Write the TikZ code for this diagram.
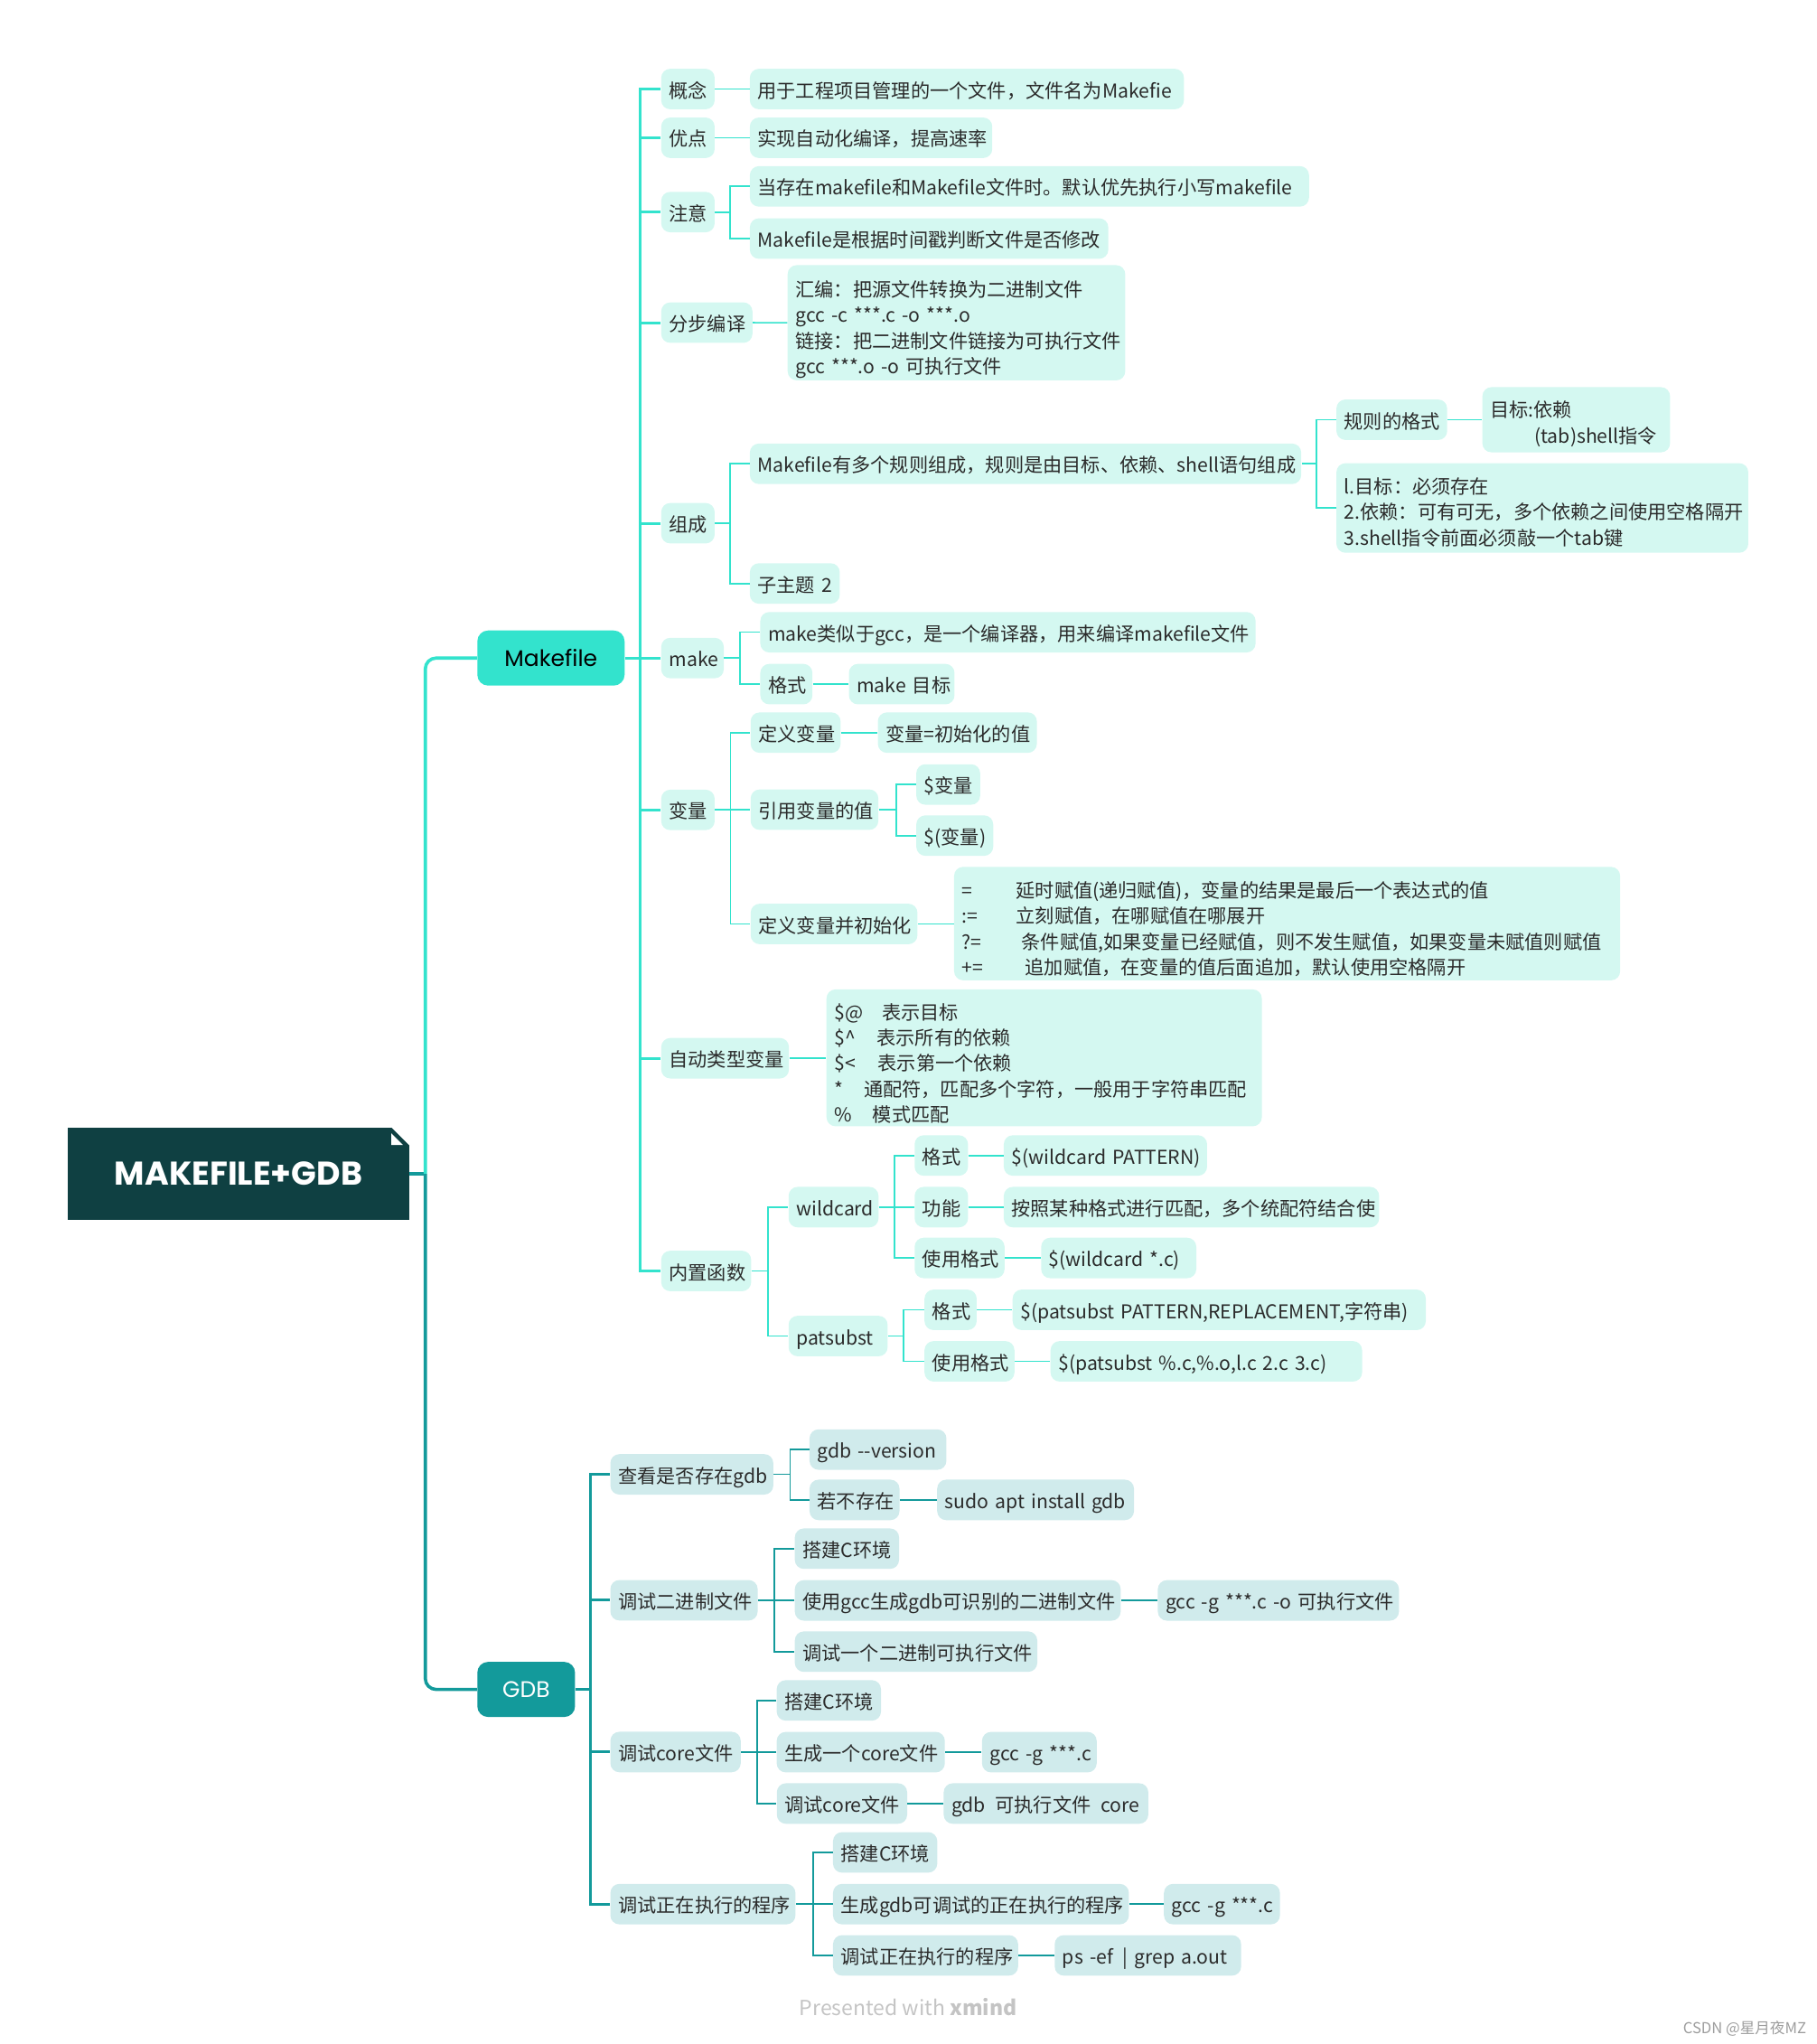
\documentclass[tikz,border=0pt]{standalone}
\usepackage{fontspec}
\setmainfont{Noto Sans CJK SC}
\newfontfamily\popfont{Poppins}
\definecolor{rootc}{HTML}{0F4042}
\definecolor{mkc}{HTML}{33E3CD}
\definecolor{gdc}{HTML}{139A9B}
\definecolor{mkfill}{HTML}{D4F8F1}
\definecolor{gdfill}{HTML}{D0EBEC}
\definecolor{txt}{HTML}{2B2B2B}
\definecolor{footc}{HTML}{C4C4C4}
\definecolor{csdnc}{HTML}{9C9C9C}
\newcommand\fstrut[1]{\rule{0pt}{#1}}
\begin{document}
\begin{tikzpicture}[x=0.72131pt,y=-0.72131pt,
  boxb/.style={anchor=west, rounded corners=5pt, minimum height=22.4pt, inner xsep=4.33pt, inner ysep=1pt, text=txt, font=\fontsize{10.6}{14.2}\selectfont},
  mk/.style={boxb, fill=mkfill, text height=11.5pt, text depth=2pt},
  gd/.style={boxb, fill=gdfill, text height=11.5pt, text depth=2pt},
  mkm/.style={boxb, fill=mkfill},
  bw/.style={text width={(#1-12)*0.72131pt}, align=left, execute at begin node={\leavevmode\hbox\bgroup}, execute at end node={\egroup}},
  bwm/.style={text width={(#1-12)*0.72131pt}, align=left},
  mw/.style={minimum width=#1*0.72131pt},
  bh/.style={minimum height=#1*0.72131pt},
  mkA/.style={draw=mkc, line width=1.5pt},
  mkB/.style={draw=mkc, line width=0.8pt},
  gdA/.style={draw=gdc, line width=1.5pt},
  gdB/.style={draw=gdc, line width=0.8pt},
  mainb/.style={anchor=west, rounded corners=6pt, minimum height=30.5pt, inner xsep=0pt, font=\popfont\fontsize{12.5}{14}\selectfont}
]
\useasboundingbox (0,0) rectangle (1394,1568);

% ---------- root ----------
\node[fill=rootc, minimum width=262*0.72131pt, minimum height=71.3*0.72131pt, inner sep=0pt, text=white, font=\popfont\bfseries\fontsize{18.2}{20}\selectfont] (root) at (183,900.45) {MAKEFILE+GDB};
\fill[white] (299.9,864.5) -- (314.2,864.5) -- (314.2,878.8) -- cycle;
\fill[white] (300.2,869.4) -- (300.2,878.3) -- (309.1,878.3) -- cycle;

% ---------- main topics ----------
\node[mainb, fill=mkc, text=black, mw=113] (mkf) at (365.9,504.8) {Makefile};
\node[mainb, fill=gdc, text=white, mw=75] (gdb) at (365.9,1296) {GDB};

\coordinate (rj) at (326.3,900.45);
\draw[draw=gdc, line width=1.8pt] (root.east) -- (rj);
\draw[draw=mkc, line width=1.8pt, rounded corners=6pt] (rj) |- (mkf.west);
\draw[draw=gdc, line width=1.8pt, rounded corners=6pt] (rj) |- (gdb.west);

% ---------- Makefile level 2 ----------
\node[mk,bw=41] (c1) at (507,68.3) {概念};
\node[mk,bw=41] (c2) at (507,105.7) {优点};
\node[mk,bw=41] (c3) at (507,162.7) {注意};
\node[mk,bw=70] (c4) at (507,247.5) {分步编译};
\node[mk,bw=41] (c5) at (507,401.4) {组成};
\node[mk,bw=48] (c6) at (507,504.8) {make};
\node[mk,bw=41] (c7) at (507,621.3) {变量};
\node[mk,bw=98] (c8) at (507,811.8) {自动类型变量};
\node[mk,bw=69] (c9) at (507,975) {内置函数};

\coordinate (mt) at (491.3,504.8);
\draw[mkA] (mkf.east) -- (mt);
\foreach \n in {c1,c2,c3,c4,c5,c6,c7,c8,c9} { \draw[mkA] (mt) |- (\n.west); }

% ---------- Makefile level 3+ ----------
\node[mk,bw=333] (d1) at (575,68.3) {用于工程项目管理的一个文件，文件名为Makefie};
\node[mk,bw=186] (d2) at (575,105.7) {实现自动化编译，提高速率};
\node[mk,bw=429] (d3a) at (575,143) {当存在makefile和Makefile文件时。默认优先执行小写makefile};
\node[mk,bw=275] (d3b) at (575,183) {Makefile是根据时间戳判断文件是否修改};
\node[mkm,bwm=259,bh=86.2] (d4) at (604,247.6) {\fstrut{16.5pt}汇编：把源文件转换为二进制文件\\gcc -c ***.c -o ***.o\\链接：把二进制文件链接为可执行文件\\gcc ***.o -o 可执行文件};
\node[mk,bw=423] (d5a) at (575,355.8) {Makefile有多个规则组成，规则是由目标、依赖、shell语句组成};
\node[mk,bw=69] (d5b) at (575,447.6) {子主题 2};
\node[mk,bw=85] (e5a1) at (1025,322) {规则的格式};
\node[mkm,bwm=144,bh=50] (f5) at (1137,322) {\fstrut{13.6pt}目标:依赖\\\hspace*{24.5pt}(tab)shell指令};
\node[mkm,bwm=316,bh=68.7] (e5a2) at (1025,389.7) {\fstrut{13.6pt}l.目标：必须存在\\2.依赖：可有可无，多个依赖之间使用空格隔开\\3.shell指令前面必须敲一个tab键};

\node[mk,bw=380] (d6a) at (583,485) {make类似于gcc，是一个编译器，用来编译makefile文件};
\node[mk,bw=40] (d6b) at (583,524.8) {格式};
\node[mk,bw=81] (e6) at (651,524.8) {make 目标};

\node[mk,bw=69] (d7a) at (575.6,562) {定义变量};
\node[mk,bw=122] (e7a) at (673.2,562) {变量=初始化的值};
\node[mk,bw=98] (d7b) at (575.6,621.1) {引用变量的值};
\node[mk,bw=49] (e7b1) at (702.7,601.8) {\$变量};
\node[mk,bw=59] (e7b2) at (702.7,641) {\$(变量)};
\node[mk,bw=128] (d7c) at (575.6,708.8) {定义变量并初始化};
\node[mkm,bwm=511,bh=87] (e7c) at (731.7,708.5) {\fstrut{15.1pt}\makebox[30pt][l]{=}延时赋值(递归赋值)，变量的结果是最后一个表达式的值\\\makebox[30pt][l]{:=}立刻赋值，在哪赋值在哪展开\\\makebox[33pt][l]{?=}条件赋值,如果变量已经赋值，则不发生赋值，如果变量未赋值则赋值\\\makebox[35pt][l]{+=}追加赋值，在变量的值后面追加，默认使用空格隔开};

\node[mkm,bwm=334,bh=105] (d8) at (633.8,811.5) {\fstrut{15.1pt}\makebox[26.4pt][l]{\$@}表示目标\\\makebox[23.6pt][l]{\$\^{}}表示所有的依赖\\\makebox[24.2pt][l]{\$<}表示第一个依赖\\\makebox[16.4pt][l]{*}通配符，匹配多个字符，一般用于字符串匹配\\\makebox[21.3pt][l]{\%}模式匹配};

\node[mk,bw=69] (d9a) at (604.7,926) {wildcard};
\node[mk,bw=76] (d9b) at (604.7,1024.9) {patsubst};
\node[mk,bw=41] (e9a1) at (701.4,886.4) {格式};
\node[mk,bw=41] (e9a2) at (701.4,926) {功能};
\node[mk,bw=69] (e9a3) at (701.4,965) {使用格式};
\node[mk,bw=156] (f9a1) at (769.8,886.4) {\$(wildcard PATTERN)};
\node[mk,bw=288] (f9a2) at (769.8,926) {按照某种格式进行匹配，多个统配符结合使};
\node[mk,bw=119] (f9a3) at (798.5,965) {\$(wildcard *.c)};
\node[mk,bw=40] (e9b1) at (709,1004.8) {格式};
\node[mk,bw=69] (e9b2) at (709,1044.3) {使用格式};
\node[mk,bw=317] (f9b1) at (776.6,1004.8) {\$(patsubst PATTERN,REPLACEMENT,字符串)};
\node[mk,bw=239] (f9b2) at (805.7,1044.3) {\$(patsubst \%.c,\%.o,l.c 2.c 3.c)};

% connectors Makefile
\draw[mkB] (c1.east) -- (d1.west);
\draw[mkB] (c2.east) -- (d2.west);
\coordinate (b3) at (560,162.7);
\draw[mkB] (c3.east) -- (b3); \draw[mkB] (b3) |- (d3a.west); \draw[mkB] (b3) |- (d3b.west);
\draw[mkB] (c4.east) -- (d4.west);
\coordinate (b5) at (560,401.4);
\draw[mkB] (c5.east) -- (b5); \draw[mkB] (b5) |- (d5a.west); \draw[mkB] (b5) |- (d5b.west);
\coordinate (b5a) at (1010,355.8);
\draw[mkB] (d5a.east) -- (b5a); \draw[mkB] (b5a) |- (e5a1.west); \draw[mkB] (b5a) |- (e5a2.west);
\draw[mkB] (e5a1.east) -- (f5.west);
\coordinate (b6) at (567.6,504.8);
\draw[mkB] (c6.east) -- (b6); \draw[mkB] (b6) |- (d6a.west); \draw[mkB] (b6) |- (d6b.west);
\draw[mkB] (d6b.east) -- (e6.west);
\coordinate (b7) at (560.4,621.3);
\draw[mkB] (c7.east) -- (b7); \draw[mkB] (b7) |- (d7a.west); \draw[mkB] (b7) |- (d7b.west); \draw[mkB] (b7) |- (d7c.west);
\draw[mkB] (d7a.east) -- (e7a.west);
\coordinate (b7b) at (687.5,621.1);
\draw[mkB] (d7b.east) -- (b7b); \draw[mkB] (b7b) |- (e7b1.west); \draw[mkB] (b7b) |- (e7b2.west);
\draw[mkB] (d7c.east) -- (e7c.west |- d7c.east);
\draw[mkB] (c8.east) -- (d8.west |- c8.east);
\coordinate (b9) at (589.2,975);
\draw[mkB] (c9.east) -- (b9); \draw[mkB] (b9) |- (d9a.west); \draw[mkB] (b9) |- (d9b.west);
\coordinate (b9a) at (686.3,926);
\draw[mkB] (d9a.east) -- (b9a); \draw[mkB] (b9a) |- (e9a1.west); \draw[mkB] (b9a) |- (e9a2.west); \draw[mkB] (b9a) |- (e9a3.west);
\draw[mkB] (e9a1.east) -- (f9a1.west);
\draw[mkB] (e9a2.east) -- (f9a2.west);
\draw[mkB] (e9a3.east) -- (f9a3.west);
\coordinate (b9b) at (693,1024.9);
\draw[mkB] (d9b.east) -- (b9b); \draw[mkB] (b9b) |- (e9b1.west); \draw[mkB] (b9b) |- (e9b2.west);
\draw[mkB] (e9b1.east) -- (f9b1.west);
\draw[mkB] (e9b2.east) -- (f9b2.west);

% ---------- GDB ----------
\node[gd,bw=125] (g1) at (468,1131) {查看是否存在gdb};
\node[gd,bw=113] (g2) at (468,1227.6) {调试二进制文件};
\node[gd,bw=100] (g3) at (468,1344) {调试core文件};
\node[gd,bw=142] (g4) at (468,1460.7) {调试正在执行的程序};
\coordinate (gt) at (452.8,1296);
\draw[gdA] (gdb.east) -- (gt);
\foreach \n in {g1,g2,g3,g4} { \draw[gdA] (gt) |- (\n.west); }

\node[gd,bw=105] (h1a) at (620.8,1112) {gdb -{}-version};
\node[gd,bw=69] (h1b) at (620.8,1150.6) {若不存在};
\node[gd,bw=151] (i1b) at (718.7,1150.6) {sudo apt install gdb};
\node[gd,bw=80] (h2a) at (609.5,1188) {搭建C环境};
\node[gd,bw=250] (h2b) at (609.5,1227.7) {使用gcc生成gdb可识别的二进制文件};
\node[gd,bw=185] (i2b) at (888,1227.7) {gcc -g ***.c -o 可执行文件};
\node[gd,bw=186] (h2c) at (609.5,1267) {调试一个二进制可执行文件};
\node[gd,bw=80] (h3a) at (595.6,1304.4) {搭建C环境};
\node[gd,bw=129] (h3b) at (595.6,1344.1) {生成一个core文件};
\node[gd,bw=88] (i3b) at (753.1,1344.1) {gcc -g ***.c};
\node[gd,bw=100] (h3c) at (595.7,1383.5) {调试core文件};
\node[gd,bw=157] (i3c) at (723.7,1383.5) {gdb\enspace 可执行文件\enspace core};
\node[gd,bw=80] (h4a) at (638.8,1421) {搭建C环境};
\node[gd,bw=227] (h4b) at (638.8,1460.7) {生成gdb可调试的正在执行的程序};
\node[gd,bw=89] (i4b) at (892.7,1460.7) {gcc -g ***.c};
\node[gd,bw=142] (h4c) at (638.8,1500) {调试正在执行的程序};
\node[gd,bw=143] (i4c) at (808.9,1500) {ps -ef\enspace | grep a.out};

\coordinate (k1) at (606.1,1131);
\draw[gdB] (g1.east) -- (k1); \draw[gdB] (k1) |- (h1a.west); \draw[gdB] (k1) |- (h1b.west);
\draw[gdB] (h1b.east) -- (i1b.west);
\coordinate (k2) at (594,1227.6);
\draw[gdB] (g2.east) -- (k2); \draw[gdB] (k2) |- (h2a.west); \draw[gdB] (k2) |- (h2b.west); \draw[gdB] (k2) |- (h2c.west);
\draw[gdB] (h2b.east) -- (i2b.west);
\coordinate (k3) at (581,1344);
\draw[gdB] (g3.east) -- (k3); \draw[gdB] (k3) |- (h3a.west); \draw[gdB] (k3) |- (h3b.west); \draw[gdB] (k3) |- (h3c.west);
\draw[gdB] (h3b.east) -- (i3b.west);
\draw[gdB] (h3c.east) -- (i3c.west);
\coordinate (k4) at (624,1460.7);
\draw[gdB] (g4.east) -- (k4); \draw[gdB] (k4) |- (h4a.west); \draw[gdB] (k4) |- (h4b.west); \draw[gdB] (k4) |- (h4c.west);
\draw[gdB] (h4b.east) -- (i4b.west);
\draw[gdB] (h4c.east) -- (i4c.west);

% ---------- footer ----------
\node[text=footc, font=\fontsize{11.5}{13}\selectfont, inner sep=0pt] (foot) at (696.7,1539.3) {Presented with \textbf{xmind}};
\node[text=csdnc, anchor=east, font=\fontsize{8.3}{10}\selectfont, inner sep=0pt] (csdn) at (1386,1556) {CSDN @星月夜MZ};
\end{tikzpicture}
\end{document}
